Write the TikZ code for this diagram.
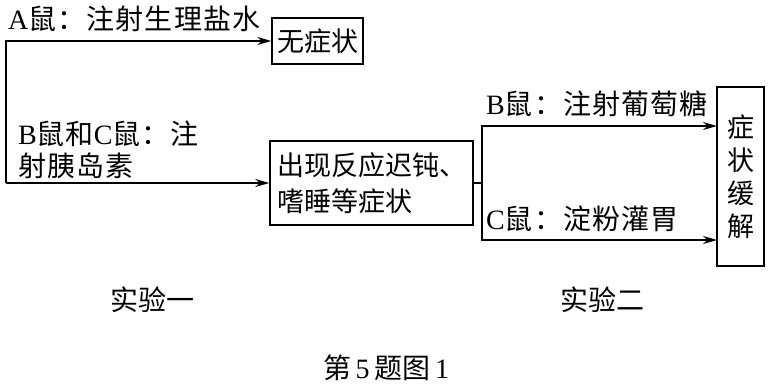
\documentclass[tikz,border=0pt]{standalone}
\usepackage{fontspec}
\setmainfont{Liberation Serif}
\newfontfamily\cjk{Noto Sans CJK SC}
\newfontfamily\cjkw[LetterSpace=4]{Noto Sans CJK SC}
\usetikzlibrary{arrows.meta}
\begin{document}
\begin{tikzpicture}[x=1pt,y=-1pt,
  box/.style={draw,line width=1.5pt,inner sep=0pt,font=\fontsize{27}{36}\selectfont\cjk},
  lab/.style={inner sep=0pt,font=\fontsize{28}{31}\selectfont},
  captxt/.style={inner sep=0pt,font=\fontsize{28}{30}\selectfont\cjk},
  ln/.style={line width=1.5pt},
  arr/.style={line width=1.5pt,-{Stealth[length=14pt,width=8pt]}}]
\useasboundingbox (0,0) rectangle (769,386);
\node[box,minimum width=91pt,minimum height=46pt] (b1) at (317.5,41) {无症状};
\node[box,minimum width=203pt,minimum height=84pt,align=left] (b2) at (371.5,183) {出现反应迟钝、\\嗜睡等症状};
\node[box,minimum width=47pt,minimum height=179pt,align=center,font=\fontsize{27}{33}\selectfont\cjk] (b3) at (740.5,176.5) {症\\状\\缓\\解};
\coordinate (bl) at (6,183);
\coordinate (j) at (482,183);
\coordinate (e1) at (717,126);
\coordinate (e2) at (717,240);
\draw[arr] (bl) |- (b1.west);
\draw[arr] (bl) -- (b2.west);
\draw[ln] (b2.east) -- (j);
\draw[arr] (j) |- (e1);
\draw[arr] (j) |- (e2);
\node[lab,anchor=west] (la) at (8,19) {A{\cjkw 鼠：注射生理盐水}};
\node[lab,anchor=west] (lbc1) at (18,134) {B{\cjkw 鼠和}C{\cjkw 鼠：注}};
\node[lab,anchor=west] (lbc2) at (18,166) {{\cjkw 射胰岛素}};
\node[lab,anchor=west] (lb) at (486,104) {B{\cjkw 鼠：注射葡萄糖}};
\node[lab,anchor=west] (lc) at (486,219) {C{\cjkw 鼠：淀粉灌胃}};
\node[captxt] (s1) at (152,300) {实验一};
\node[captxt] (s2) at (602,300) {实验二};
\node[captxt] (t) at (386,368) {第\,{\rmfamily 5}\,题图\,{\rmfamily 1}};
\end{tikzpicture}
\end{document}
